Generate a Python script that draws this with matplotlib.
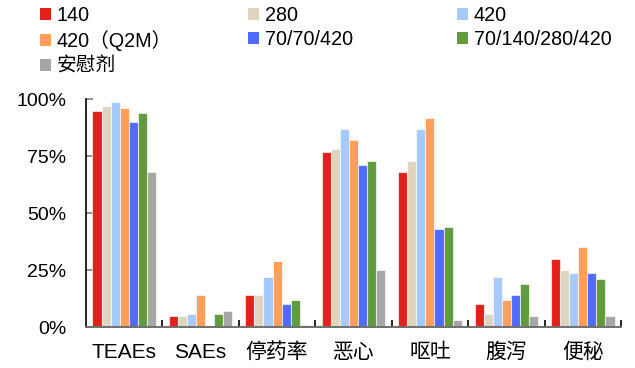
import matplotlib
matplotlib.use("Agg")
import matplotlib.pyplot as plt
from matplotlib.patches import Patch
from matplotlib.ticker import FixedLocator, PercentFormatter
import numpy as np

plt.rcParams['font.family'] = ['Liberation Sans', 'Noto Sans CJK SC', 'DejaVu Sans']

categories = ['TEAEs', 'SAEs', '停药率', '恶心', '呕吐', '腹泻', '便秘']
series_names = ['140', '280', '420', '420（Q2M）', '70/70/420', '70/140/280/420', '安慰剂']
colors = ['#E2211C', '#DFD5BE', '#A7CAFE', '#FF9F5B', '#4F6CFE', '#629A3F', '#A6A6A6']

dose_140 = [95, 5, 14, 77, 68, 10, 30]
dose_280 = [97, 5, 14, 78, 73, 6, 25]
dose_420 = [99, 6, 22, 87, 87, 22, 24]
dose_420_q2m = [96, 14, 29, 82, 92, 12, 35]
titr_70_70_420 = [90, 0, 10, 71, 43, 14, 24]
titr_70_140_280_420 = [94, 6, 12, 73, 44, 19, 21]
placebo = [68, 7, 1, 25, 3, 5, 5]

series = [dose_140, dose_280, dose_420, dose_420_q2m,
          titr_70_70_420, titr_70_140_280_420, placebo]

fig = plt.figure(figsize=(6.35, 3.68), dpi=100)
ax = fig.add_axes([0.1354, 0.1106, 0.8426, 0.6196])

n = len(series)
width = 0.83 / n
x = np.arange(len(categories))
for j, (vals, c) in enumerate(zip(series, colors)):
    ax.bar(x + (j - (n - 1) / 2) * width, vals, width, color=c,
           edgecolor=(1, 1, 1, 0.6), linewidth=0.8, zorder=2)

ax.set_xlim(-0.5, len(categories) - 0.5)
ax.set_ylim(0, 100)
ax.set_yticks([0, 25, 50, 75, 100])
ax.yaxis.set_major_formatter(PercentFormatter(decimals=0))
ax.tick_params(axis='y', direction='in', length=5, width=1.2, color='#7f7f7f',
               labelsize=14, pad=14)

ax.set_xticks(x)
ax.set_xticklabels(categories)
ax.xaxis.set_minor_locator(FixedLocator(np.arange(0.5, len(categories), 1.0)))
ax.tick_params(axis='x', which='major', length=0, labelsize=15, pad=11)
ax.tick_params(axis='x', which='minor', direction='in', length=5, width=1.2, color='black')

for s in ['top', 'right']:
    ax.spines[s].set_visible(False)
ax.spines['left'].set_color('black')
ax.spines['left'].set_linewidth(1.2)
ax.spines['bottom'].set_color('#6f6f6f')
ax.spines['bottom'].set_linewidth(1.4)

handles = [Patch(facecolor=c, edgecolor='none', label=l) for c, l in zip(colors, series_names)]
col_x = [0.063, 0.391, 0.720]
for k in range(3):
    fig.legend(handles=handles[k::3], loc='upper left',
               bbox_to_anchor=(col_x[k], 0.984), frameon=False,
               fontsize=14.2, handlelength=0.55, handleheight=0.55,
               handletextpad=0.3, labelspacing=0.28, borderpad=0,
               borderaxespad=0)

fig.savefig('out.png', dpi=100)
